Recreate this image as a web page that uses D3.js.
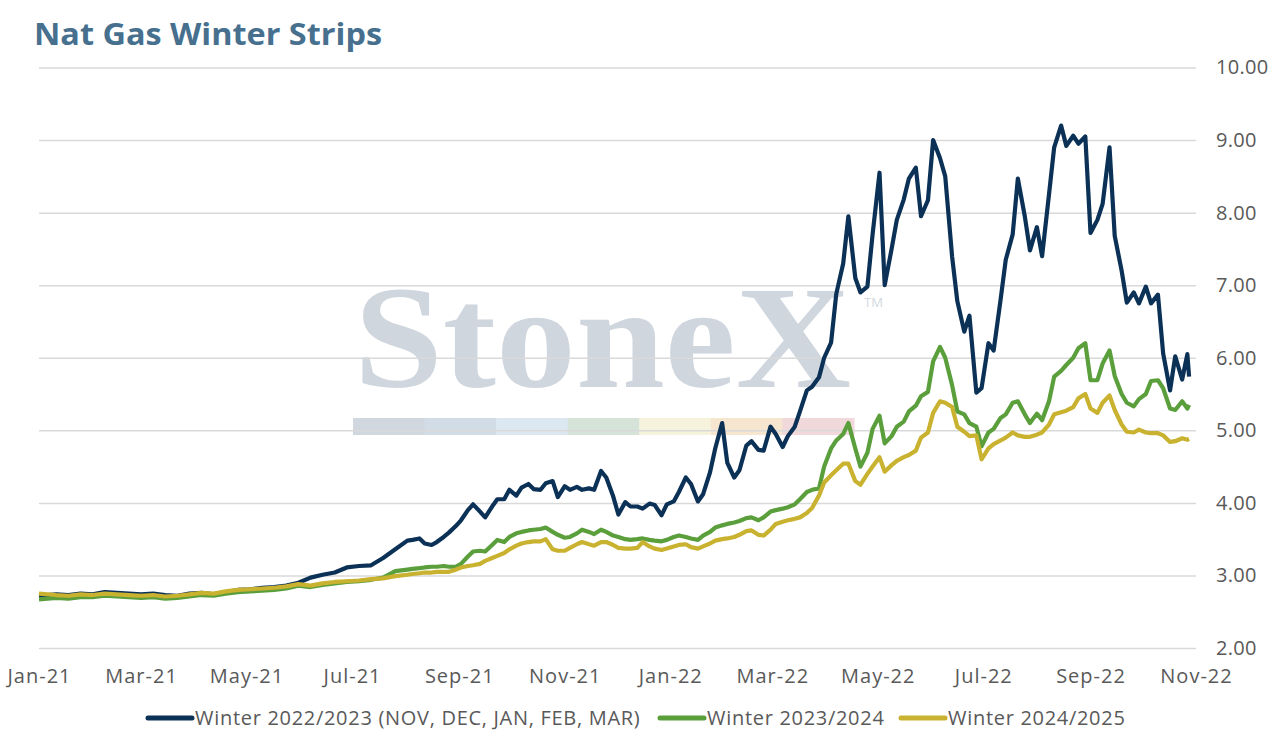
<!DOCTYPE html>
<html>
<head>
<meta charset="utf-8">
<script src="https://cdn.jsdelivr.net/npm/d3@7"></script>
<style>
  body { margin: 0; background: #fff; }
  svg { display: block; }
</style>
</head>
<body>
<div id="chart"></div>
<script>
// dates: weekly until end of Jul-21, then Mon/Thu
const dates = [
  "2021-01-01","2021-01-11","2021-01-18","2021-01-25","2021-02-01","2021-02-08","2021-02-15","2021-02-22",
  "2021-03-01","2021-03-08","2021-03-15","2021-03-22","2021-03-29","2021-04-05","2021-04-12","2021-04-19",
  "2021-04-26","2021-05-03","2021-05-10","2021-05-17","2021-05-24","2021-05-31","2021-06-07","2021-06-14",
  "2021-06-21","2021-06-28","2021-07-05","2021-07-12","2021-07-19","2021-07-26",
  "2021-08-02","2021-08-05","2021-08-09","2021-08-12","2021-08-16","2021-08-19","2021-08-23","2021-08-26","2021-08-30",
  "2021-09-02","2021-09-06","2021-09-09","2021-09-13","2021-09-16","2021-09-20","2021-09-23","2021-09-27","2021-09-30",
  "2021-10-04","2021-10-07","2021-10-11","2021-10-14","2021-10-18","2021-10-21","2021-10-25","2021-10-28",
  "2021-11-01","2021-11-04","2021-11-08","2021-11-11","2021-11-15","2021-11-18","2021-11-22","2021-11-25","2021-11-29",
  "2021-12-02","2021-12-06","2021-12-09","2021-12-13","2021-12-16","2021-12-20","2021-12-23","2021-12-27","2021-12-30",
  "2022-01-03","2022-01-06","2022-01-10","2022-01-13","2022-01-17","2022-01-20","2022-01-24","2022-01-27","2022-01-31",
  "2022-02-03","2022-02-07","2022-02-10","2022-02-14","2022-02-17","2022-02-21","2022-02-24","2022-02-28",
  "2022-03-03","2022-03-07","2022-03-10","2022-03-14","2022-03-17","2022-03-21","2022-03-24","2022-03-28","2022-03-31",
  "2022-04-04","2022-04-07","2022-04-11","2022-04-14","2022-04-18","2022-04-21","2022-04-25","2022-04-28",
  "2022-05-02","2022-05-05","2022-05-09","2022-05-12","2022-05-16","2022-05-19","2022-05-23","2022-05-26","2022-05-30",
  "2022-06-02","2022-06-06","2022-06-09","2022-06-13","2022-06-16","2022-06-20","2022-06-23","2022-06-27","2022-06-30",
  "2022-07-04","2022-07-07","2022-07-11","2022-07-14","2022-07-18","2022-07-21","2022-07-25","2022-07-28",
  "2022-08-01","2022-08-04","2022-08-08","2022-08-11","2022-08-15","2022-08-18","2022-08-22","2022-08-25","2022-08-29",
  "2022-09-01","2022-09-05","2022-09-08","2022-09-12","2022-09-15","2022-09-19","2022-09-22","2022-09-26","2022-09-29",
  "2022-10-03","2022-10-06","2022-10-10","2022-10-13","2022-10-17","2022-10-20","2022-10-24","2022-10-27","2022-10-28"
];

const winter2223 = [
  2.72,2.74,2.73,2.75,2.74,2.77,2.76,2.75,2.74,2.75,2.73,2.72,2.75,2.76,2.74,2.77,2.80,2.81,2.83,2.84,
  2.86,2.90,2.97,3.01,3.04,3.11,3.13,3.14,3.24,3.36,
  3.48,3.49,3.51,3.44,3.42,3.46,3.53,3.59,3.68,
  3.76,3.90,3.98,3.88,3.80,3.95,4.05,4.05,4.18,
  4.10,4.21,4.26,4.19,4.18,4.27,4.30,4.08,
  4.23,4.18,4.22,4.18,4.20,4.18,4.44,4.35,4.09,
  3.84,4.01,3.95,3.95,3.92,3.99,3.97,3.83,3.98,
  4.02,4.15,4.35,4.26,4.02,4.12,4.42,4.75,5.10,
  4.55,4.35,4.45,4.79,4.85,4.73,4.72,5.05,
  4.95,4.77,4.92,5.05,5.26,5.55,5.60,5.73,6.00,
  6.21,6.88,7.30,7.95,7.10,6.90,6.98,7.70,
  8.55,7.00,7.50,7.90,8.18,8.47,8.62,7.95,8.17,
  9.00,8.75,8.50,7.39,6.78,6.36,6.58,5.52,5.58,
  6.20,6.10,6.80,7.35,7.70,8.47,7.95,7.48,
  7.80,7.40,8.25,8.90,9.20,8.92,9.06,8.95,9.05,
  7.72,7.90,8.12,8.90,7.68,7.20,6.76,6.90,6.75,
  6.98,6.75,6.87,6.06,5.55,6.02,5.70,6.05,5.74
];

const winter2324 = [
  2.67,2.69,2.68,2.70,2.70,2.72,2.71,2.70,2.69,2.70,2.68,2.69,2.71,2.73,2.72,2.75,2.77,2.78,2.79,2.80,
  2.82,2.86,2.84,2.87,2.89,2.91,2.92,2.94,2.97,3.06,
  3.08,3.09,3.10,3.11,3.12,3.12,3.13,3.12,3.12,
  3.16,3.26,3.33,3.34,3.33,3.42,3.49,3.46,3.53,
  3.58,3.60,3.62,3.63,3.64,3.66,3.60,3.56,
  3.52,3.53,3.58,3.63,3.60,3.57,3.63,3.60,3.55,
  3.53,3.50,3.49,3.50,3.51,3.49,3.48,3.47,3.49,
  3.53,3.55,3.53,3.51,3.49,3.55,3.60,3.66,3.69,
  3.71,3.73,3.75,3.79,3.80,3.76,3.80,3.88,
  3.90,3.92,3.94,3.98,4.05,4.15,4.18,4.20,4.50,
  4.75,4.86,4.95,5.10,4.75,4.50,4.69,5.02,
  5.20,4.82,4.92,5.05,5.12,5.26,5.34,5.47,5.53,
  5.95,6.15,6.00,5.62,5.26,5.22,5.10,5.05,4.78,
  4.97,5.02,5.17,5.22,5.38,5.40,5.22,5.10,
  5.23,5.14,5.40,5.74,5.82,5.90,6.00,6.13,6.20,
  5.69,5.69,5.92,6.10,5.75,5.50,5.38,5.33,5.43,
  5.50,5.68,5.69,5.58,5.30,5.28,5.40,5.30,5.35
];

const winter2425 = [
  2.75,2.73,2.72,2.74,2.73,2.75,2.74,2.73,2.72,2.73,2.71,2.72,2.74,2.76,2.75,2.78,2.80,2.81,2.82,2.83,
  2.85,2.88,2.86,2.89,2.91,2.92,2.93,2.95,2.96,2.99,
  3.01,3.02,3.03,3.04,3.04,3.05,3.05,3.05,3.08,
  3.11,3.13,3.14,3.16,3.20,3.24,3.27,3.31,3.36,
  3.41,3.44,3.46,3.47,3.47,3.50,3.36,3.34,
  3.34,3.38,3.43,3.46,3.43,3.41,3.46,3.46,3.42,
  3.38,3.37,3.37,3.38,3.46,3.40,3.37,3.35,3.37,
  3.40,3.42,3.43,3.39,3.37,3.40,3.44,3.48,3.50,
  3.51,3.53,3.56,3.61,3.62,3.56,3.55,3.63,
  3.71,3.74,3.76,3.78,3.80,3.86,3.93,4.10,4.28,
  4.38,4.45,4.54,4.54,4.30,4.25,4.40,4.50,
  4.63,4.43,4.52,4.58,4.63,4.66,4.72,4.90,4.97,
  5.24,5.40,5.38,5.32,5.05,4.98,4.92,4.93,4.60,
  4.75,4.81,4.86,4.90,4.97,4.93,4.91,4.91,
  4.94,4.97,5.08,5.22,5.25,5.27,5.32,5.44,5.50,
  5.30,5.24,5.38,5.48,5.28,5.08,4.98,4.97,5.01,
  4.97,4.96,4.96,4.93,4.84,4.85,4.89,4.87,4.88
];

const seriesNames = [
  "Winter 2022/2023 (NOV, DEC, JAN, FEB, MAR)",
  "Winter 2023/2024",
  "Winter 2024/2025"
];
const seriesColors = ["#0b3157", "#5a9f3b", "#c9b22f"];

const yTicks = [2, 3, 4, 5, 6, 7, 8, 9, 10];
const xTicks = ["2021-01-01","2021-03-01","2021-05-01","2021-07-01","2021-09-01","2021-11-01",
                "2022-01-01","2022-03-01","2022-05-01","2022-07-01","2022-09-01","2022-11-01"];

const parseDate = d3.timeParse("%Y-%m-%d");
const width = 1274, height = 739;
const plotLeft = 39, plotRight = 1196, plotTop = 67.5, plotBottom = 648;
const font = "'Open Sans', sans-serif";

const svg = d3.select("#chart").append("svg")
    .attr("width", width)
    .attr("height", height)
    .style("font-family", font);

const x = d3.scaleTime()
    .domain([parseDate("2021-01-01"), parseDate("2022-11-01")])
    .range([plotLeft, plotRight]);
const y = d3.scaleLinear().domain([2, 10]).range([plotBottom, plotTop]);

// title
svg.append("text")
    .attr("x", 34).attr("y", 45)
    .attr("fill", "#46708e")
    .attr("font-weight", 700)
    .attr("font-size", 30)
    .attr("textLength", 348)
    .attr("lengthAdjust", "spacingAndGlyphs")
    .text("Nat Gas Winter Strips");

// watermark (behind the grid)
const wm = svg.append("g").attr("class", "watermark");
wm.append("text")
    .attr("x", 354).attr("y", 387)
    .attr("font-family", "'Liberation Serif', serif")
    .attr("font-weight", 700)
    .attr("font-size", 146)
    .attr("textLength", 497)
    .attr("lengthAdjust", "spacingAndGlyphs")
    .attr("fill", "#cfd6de")
    .text("StoneX");
wm.append("text")
    .attr("x", 864).attr("y", 307)
    .attr("font-size", 13)
    .attr("fill", "#d3d9df")
    .text("TM");
const bandColors = ["#d0d7df", "#d2dce6", "#dce8f1", "#d6e3d8", "#f6f3dc", "#f6e5cf", "#f1d8da"];
const band = d3.scaleBand().domain(d3.range(bandColors.length)).range([353, 854]);
wm.selectAll("rect").data(bandColors).join("rect")
    .attr("x", (d, i) => band(i))
    .attr("y", 418)
    .attr("width", band.bandwidth() + 0.5)
    .attr("height", 17)
    .attr("fill", d => d);

// y axis with gridlines, labels on the right
const yAxis = svg.append("g")
    .attr("transform", `translate(${plotRight},0)`)
    .call(d3.axisRight(y).tickValues(yTicks).tickSize(-(plotRight - plotLeft)).tickPadding(20)
        .tickFormat(d3.format(".2f")));
yAxis.select(".domain").remove();
yAxis.selectAll(".tick line").attr("stroke", "#d9d9d9").attr("stroke-width", 1.5);
yAxis.selectAll(".tick text")
    .attr("fill", "#595959")
    .attr("font-size", 20)
    .attr("letter-spacing", 0.3)
    .attr("font-family", font);

// x axis
const xAxis = svg.append("g")
    .attr("transform", `translate(0,${plotBottom})`)
    .call(d3.axisBottom(x).tickValues(xTicks.map(parseDate)).tickSize(0).tickPadding(21)
        .tickFormat(d3.timeFormat("%b-%y")));
xAxis.select(".domain").remove();
xAxis.selectAll(".tick text")
    .attr("fill", "#595959")
    .attr("font-size", 20)
    .attr("letter-spacing", 1)
    .attr("font-family", font);

// lines
const allSeries = [winter2223, winter2324, winter2425];
const line = d3.line()
    .x(d => x(d.date))
    .y(d => y(d.value));

allSeries.forEach((vals, i) => {
    const pts = dates.map((dt, j) => ({ date: parseDate(dt), value: vals[j] }));
    svg.append("path")
        .datum(pts)
        .attr("fill", "none")
        .attr("stroke", seriesColors[i])
        .attr("stroke-width", 4.2)
        .attr("stroke-linejoin", "round")
        .attr("d", line);
});

// legend
const legendX = [148, 660, 901];
const legend = svg.append("g").attr("class", "legend");
seriesNames.forEach((name, i) => {
    legend.append("line")
        .attr("x1", legendX[i]).attr("x2", legendX[i] + 44)
        .attr("y1", 718).attr("y2", 718)
        .attr("stroke", seriesColors[i])
        .attr("stroke-width", 5)
        .attr("stroke-linecap", "round");
    legend.append("text")
        .attr("x", legendX[i] + 47).attr("y", 725)
        .attr("fill", "#595959")
        .attr("font-size", 20)
        .attr("letter-spacing", 0.7)
        .text(name);
});
</script>
</body>
</html>
